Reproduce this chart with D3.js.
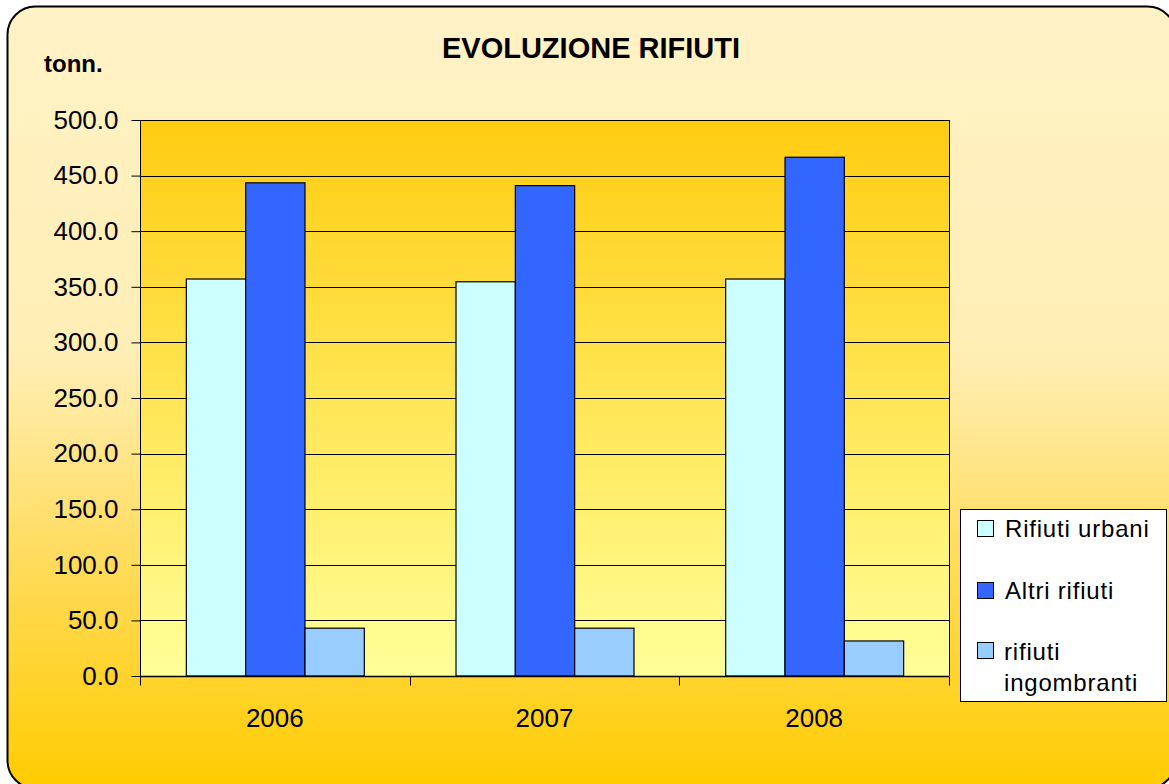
<!DOCTYPE html>
<html>
<head>
<meta charset="utf-8">
<script src="https://cdn.jsdelivr.net/npm/d3@7"></script>
<style>
  body { margin: 0; background: #fff; }
  svg text { font-family: "Liberation Sans", Arial, sans-serif; fill: #000; }
</style>
</head>
<body>
<div id="container"></div>
<script>
// data
var years = ["2006", "2007", "2008"];
var seriesNames = ["Rifiuti urbani", "Altri rifiuti", "rifiuti ingombranti"];
var urbani = [357.0, 354.5, 357.0];
var altri = [443.5, 441.0, 466.5];
var ingombranti = [43.0, 43.0, 31.5];
var yTicks = [0, 50, 100, 150, 200, 250, 300, 350, 400, 450, 500];

var colors = ["#CCFFFF", "#3366FF", "#99CCFF"];

width = 1169;
height = 784;

window.onload = function() {
    var svg = d3.select("#container").append("svg")
        .attr("width", width)
        .attr("height", height);

    var defs = svg.append("defs");

    // outer background gradient (cream -> gold)
    var bg = defs.append("linearGradient")
        .attr("id", "bgGrad")
        .attr("x1", 0).attr("y1", 0).attr("x2", 0).attr("y2", 1);
    bg.append("stop").attr("offset", "0").attr("stop-color", "#FFF2C6");
    bg.append("stop").attr("offset", "0.45").attr("stop-color", "#FFEEB4");
    bg.append("stop").attr("offset", "0.75").attr("stop-color", "#FFD94E");
    bg.append("stop").attr("offset", "1").attr("stop-color", "#FFCC00");

    // plot area gradient (gold -> pale yellow)
    var pg = defs.append("linearGradient")
        .attr("id", "plotGrad")
        .attr("x1", 0).attr("y1", 0).attr("x2", 0).attr("y2", 1);
    pg.append("stop").attr("offset", "0").attr("stop-color", "#FFCC11");
    pg.append("stop").attr("offset", "1").attr("stop-color", "#FFFF99");

    svg.append("rect")
        .attr("x", 7.5).attr("y", 6.5)
        .attr("width", 1168).attr("height", 782)
        .attr("rx", 28).attr("ry", 28)
        .style("fill", "url(#bgGrad)")
        .style("stroke", "#000")
        .style("stroke-width", 2);

    var left = 140, right = 949, top = 120, bottom = 676;

    var x0 = d3.scaleBand()
        .domain(years)
        .range([left, right])
        .paddingInner(0.34)
        .paddingOuter(0.17);

    var x1 = d3.scaleBand()
        .domain(seriesNames)
        .range([0, x0.bandwidth()]);

    var y = d3.scaleLinear()
        .domain([0, 500])
        .range([bottom, top]);

    // plot area
    svg.append("rect")
        .attr("x", left).attr("y", top)
        .attr("width", right - left).attr("height", bottom - top)
        .style("fill", "url(#plotGrad)");

    // gridlines
    svg.append("g")
        .selectAll("line")
        .data(yTicks.filter(function(d) { return d > 0; }))
        .enter().append("line")
        .attr("x1", left).attr("x2", right)
        .attr("y1", function(d) { return Math.round(y(d)) + 0.5; })
        .attr("y2", function(d) { return Math.round(y(d)) + 0.5; })
        .style("stroke", "#000")
        .style("stroke-width", 1);

    // right border of plot
    svg.append("line")
        .attr("x1", right + 0.5).attr("x2", right + 0.5)
        .attr("y1", top).attr("y2", bottom)
        .style("stroke", "#000");

    // bars
    var table = years.map(function(yr, i) {
        return { year: yr, values: [urbani[i], altri[i], ingombranti[i]] };
    });

    var groups = svg.append("g")
        .selectAll("g")
        .data(table)
        .enter().append("g")
        .attr("transform", function(d) { return "translate(" + x0(d.year) + ",0)"; });

    groups.selectAll("rect")
        .data(function(d) {
            return d.values.map(function(v, j) { return { name: seriesNames[j], value: v, idx: j }; });
        })
        .enter().append("rect")
        .attr("x", function(d) { return x1(d.name) + 0.5; })
        .attr("y", function(d) { return y(d.value); })
        .attr("width", x1.bandwidth())
        .attr("height", function(d) { return bottom - y(d.value); })
        .style("fill", function(d) { return colors[d.idx]; })
        .style("stroke", "#000")
        .style("stroke-width", 1.2);

    // y axis
    var yAxis = d3.axisLeft(y)
        .tickValues(yTicks)
        .tickFormat(d3.format(".1f"))
        .tickSize(9)
        .tickPadding(13);

    var ya = svg.append("g")
        .attr("transform", "translate(" + (left + 0.5) + ",0)")
        .call(yAxis);
    ya.select(".domain").attr("d", "M0," + top + "V" + (bottom + 9)).style("stroke", "#000");
    ya.selectAll(".tick line").style("stroke", "#000");
    ya.selectAll(".tick text")
        .style("font-size", "26px")
        .style("font-family", "'Liberation Sans', Arial, sans-serif")
        .attr("fill", "#000");

    // x axis
    var xa = svg.append("g")
        .attr("transform", "translate(0," + (bottom + 0.5) + ")");
    xa.append("line")
        .attr("x1", left).attr("x2", right)
        .style("stroke", "#000")
        .style("stroke-width", 1.5);
    var bounds = [left, left + x0.step(), left + 2 * x0.step(), right];
    xa.selectAll(".xt")
        .data(bounds)
        .enter().append("line")
        .attr("class", "xt")
        .attr("x1", function(d) { return Math.round(d) + 0.5; })
        .attr("x2", function(d) { return Math.round(d) + 0.5; })
        .attr("y1", 0).attr("y2", 9)
        .style("stroke", "#000");
    xa.selectAll("text")
        .data(years)
        .enter().append("text")
        .attr("x", function(d) { return x0(d) + x0.bandwidth() / 2; })
        .attr("y", 50)
        .attr("text-anchor", "middle")
        .style("font-size", "26px")
        .text(function(d) { return d; });

    // title
    svg.append("text")
        .attr("x", 591).attr("y", 58)
        .attr("text-anchor", "middle")
        .style("font-size", "29px")
        .style("font-weight", "bold")
        .text("EVOLUZIONE RIFIUTI");

    svg.append("text")
        .attr("x", 44).attr("y", 72)
        .style("font-size", "24px")
        .style("font-weight", "bold")
        .text("tonn.");

    // legend
    var lg = svg.append("g");
    lg.append("rect")
        .attr("x", 960.5).attr("y", 509.5)
        .attr("width", 206).attr("height", 192)
        .style("fill", "#fff")
        .style("stroke", "#000")
        .style("stroke-width", 1);

    var legendY = [529, 591, 651];
    seriesNames.forEach(function(name, i) {
        lg.append("rect")
            .attr("x", 977.5).attr("y", legendY[i] - 8.5)
            .attr("width", 16).attr("height", 16)
            .style("fill", colors[i])
            .style("stroke", "#000");
    });
    lg.append("text").attr("x", 1005).attr("y", 537)
        .style("font-size", "24px").style("letter-spacing", "0.8px").text("Rifiuti urbani");
    lg.append("text").attr("x", 1005).attr("y", 599)
        .style("font-size", "24px").style("letter-spacing", "0.8px").text("Altri rifiuti");
    lg.append("text").attr("x", 1004).attr("y", 660)
        .style("font-size", "24px").style("letter-spacing", "0.8px").text("rifiuti");
    lg.append("text").attr("x", 1004).attr("y", 691)
        .style("font-size", "24px").style("letter-spacing", "0.8px").text("ingombranti");
};
</script>
</body>
</html>
